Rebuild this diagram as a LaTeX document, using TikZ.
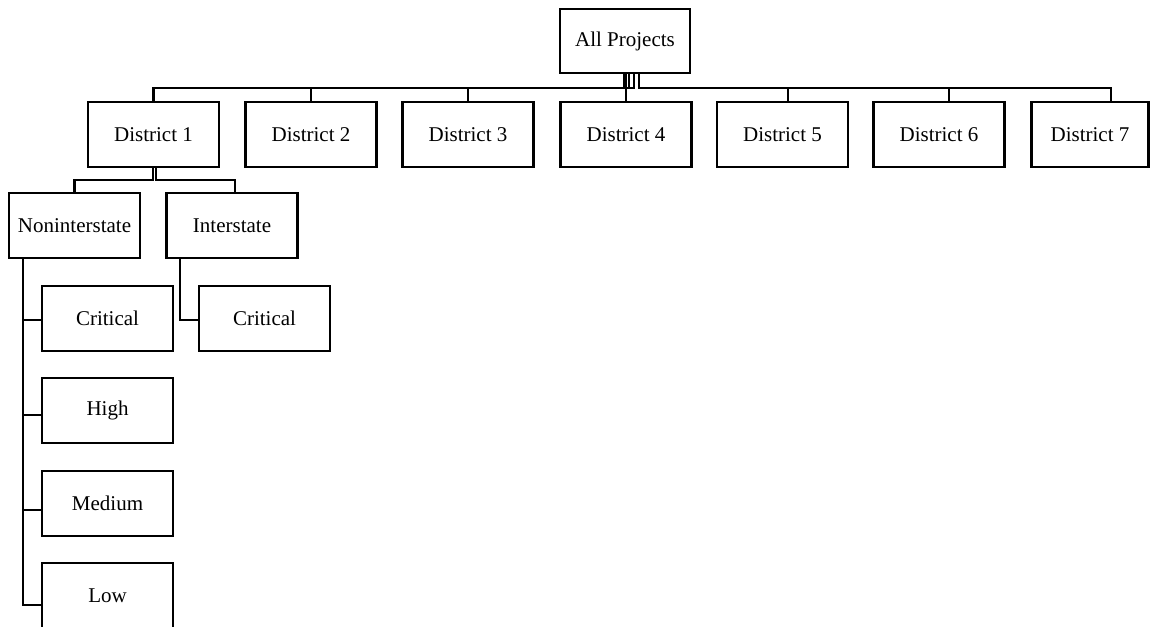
\documentclass[tikz,border=0pt]{standalone}
\usepackage{fontspec}
\setmainfont{Liberation Serif}
\begin{document}
\begin{tikzpicture}[x=1pt,y=-1pt,
  box/.style={draw=black,line width=2.4pt,fill=white,rectangle,inner sep=0pt,
    minimum width=131pt,minimum height=65pt,
    font=\fontsize{21}{25}\selectfont},
  link/.style={draw=black,line width=2.4pt}]
\useasboundingbox (0,0) rectangle (1158,626);
\clip (0,0) rectangle (1158,626);
% nodes
\node[box,minimum width=130pt,minimum height=64pt] (ap) at (625,41) {All Projects};
\node[box] (d1) at (153.5,134.5) {District 1};
\node[box] (d2) at (311,134.5) {District 2};
\node[box] (d3) at (468,134.5) {District 3};
\node[box] (d4) at (626,134.5) {District 4};
\node[box] (d5) at (782.5,134.5) {District 5};
\node[box] (d6) at (939,134.5) {District 6};
\node[box,minimum width=117pt] (d7) at (1090,134.5) {District 7};
\node[box] (ni) at (74.5,225.5) {Noninterstate};
\node[box] (is) at (232,225.5) {Interstate};
\node[box] (c1) at (107.5,318.5) {Critical};
\node[box] (hi) at (107.5,410.5) {High};
\node[box] (me) at (107.5,503.5) {Medium};
\node[box] (lo) at (107.5,595.5) {Low};
\node[box] (c2) at (264.5,318.5) {Critical};
% connectors from All Projects
\draw[link] (ap.south -| 624,0) -- (624,88) -| (d1.north);
\draw[link] (ap.south -| 629,0) -- (629,88) -| (d2.north);
\draw[link] (ap.south -| 634,0) -- (634,88) -| (d3.north);
\draw[link] (ap.south -| 626,0) -- (626,88) -| (d4.north);
\draw[link] (ap.south -| 639,0) -- (639,88) -| (d5.north -| 788,0);
\draw[link] (ap.south -| 639,0) -- (639,88) -| (d6.north -| 949,0);
\draw[link] (ap.south -| 639,0) -- (639,88) -| (d7.north -| 1111,0);
% District 1 children
\draw[link] (d1.south -| 153,0) -- (153,180) -| (ni.north);
\draw[link] (d1.south -| 156,0) -- (156,180) -| (is.north -| 235,0);
% Noninterstate children
\draw[link] (ni.south -| 23,0) |- (c1.west |- 0,320);
\draw[link] (ni.south -| 23,0) |- (hi.west |- 0,415);
\draw[link] (ni.south -| 23,0) |- (me.west |- 0,510);
\draw[link] (ni.south -| 23,0) |- (lo.west |- 0,605);
% Interstate child
\draw[link] (is.south -| 180,0) |- (c2.west |- 0,320);
\end{tikzpicture}
\end{document}
